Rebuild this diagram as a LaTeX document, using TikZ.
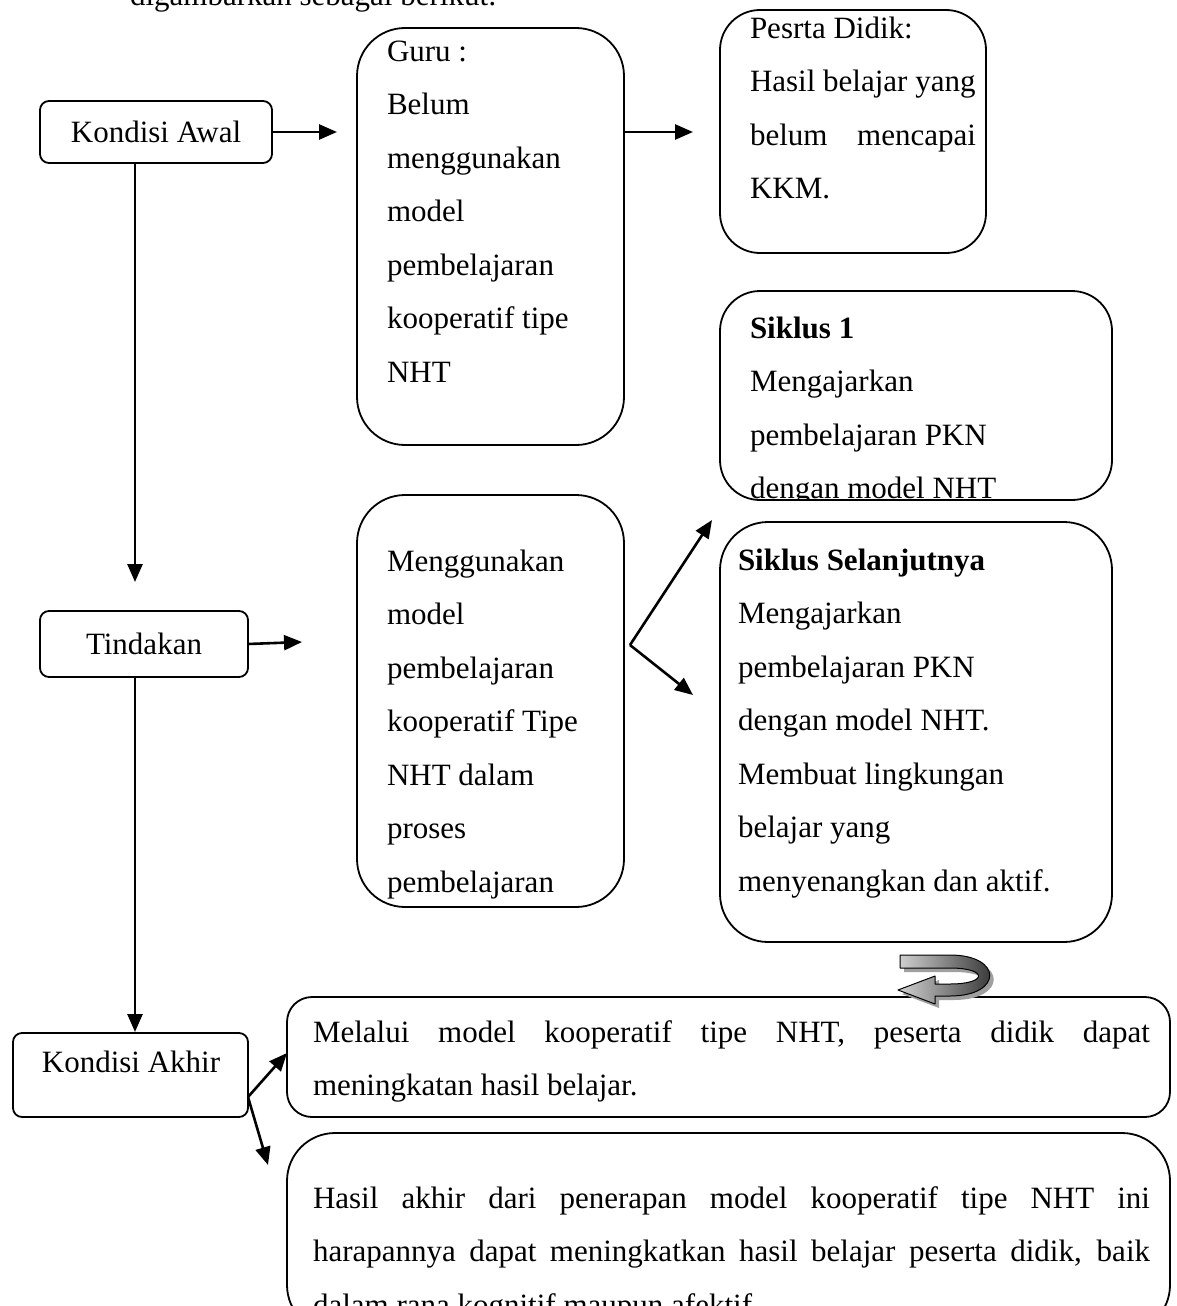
\documentclass[tikz,border=0pt]{standalone}
\usepackage{fontspec}
\setmainfont{Liberation Serif}
\usetikzlibrary{arrows.meta}

\begin{document}
\begin{tikzpicture}[x=1pt,y=-1pt,line join=round,
	kotak/.style={draw, line width=1.8pt, rounded corners=#1, inner sep=0pt, outer sep=0pt, anchor=north west, font=\fontsize{31}{53.5}\selectfont},
	kotak/.default=9pt,
	isi/.style={inner sep=0pt, outer sep=0pt, anchor=north west, align=left, font=\fontsize{31}{53.5}\selectfont},
	panah/.style={line width=2.6pt, -{Triangle[length=18pt,width=15pt]}}]
	\def\tegak{\rule{0pt}{24pt}}
	\useasboundingbox (0,0) rectangle (1176,1306);
	% kalimat di atas gambar (terpotong)
	\node[isi, anchor=base west] (judul) at (130,6) {digambarkan sebagai berikut:};
	% kolom kiri
	\node[kotak, minimum width=232, minimum height=62] (awal) at (40,101) {Kondisi Awal};
	\node[kotak, minimum width=208, minimum height=66] (tindakan) at (40,611) {Tindakan};
	\node[kotak, minimum width=235, minimum height=84] (akhir) at (13,1033) {};
	\node[isi, anchor=base] (akhirteks) at (131,1072) {Kondisi Akhir};
	% kolom tengah
	\node[kotak=48pt, minimum width=267, minimum height=417] (guru) at (357,28) {};
	\node[isi] (guruteks) at (387,61-24) {\tegak Guru :\\ Belum\\ menggunakan\\ model\\ pembelajaran\\ kooperatif tipe\\ NHT};
	\node[kotak=48pt, minimum width=267, minimum height=412] (pakai) at (357,495) {};
	\node[isi] (pakaiteks) at (387,571-24) {\tegak Menggunakan\\ model\\ pembelajaran\\ kooperatif Tipe\\ NHT dalam\\ proses\\ pembelajaran};
	% kolom kanan
	\node[kotak=40pt, minimum width=266, minimum height=243] (didik) at (720,10) {};
	\node[isi] (didikteks) at (750,38-24) {\tegak Pesrta Didik:\\ Hasil belajar yang\\ \makebox[226pt][s]{belum mencapai}\\ KKM.};
	\node[kotak=40pt, minimum width=392, minimum height=209] (siklus1) at (720,291) {};
	\begin{scope}
		\clip (720,291) rectangle (1112,500);
		\node[isi] (siklus1teks) at (750,338-24) {\tegak\textbf{Siklus 1}\\ Mengajarkan\\ pembelajaran PKN\\ dengan model NHT};
	\end{scope}
	\node[kotak=48pt, minimum width=392, minimum height=420] (lanjut) at (720,522) {};
	\node[isi] (lanjutteks) at (738,570-24) {\tegak\textbf{Siklus Selanjutnya}\\ Mengajarkan\\ pembelajaran PKN\\ dengan model NHT.\\ Membuat lingkungan\\ belajar yang\\ menyenangkan dan aktif.};
	% hasil akhir
	\node[kotak=25pt, minimum width=883, minimum height=120] (melalui) at (287,997) {};
	\node[isi] (melaluiteks) at (313,1042-24) {\tegak\makebox[837pt][s]{Melalui model kooperatif tipe NHT, peserta didik dapat}\\ meningkatan hasil belajar.};
	\node[kotak=48pt, minimum width=883, minimum height=200] (hasil) at (287,1133) {};
	\node[isi] (hasilteks) at (313,1208-24) {\tegak\makebox[837pt][s]{Hasil akhir dari penerapan model kooperatif tipe NHT ini}\\ \makebox[837pt][s]{harapannya dapat meningkatkan hasil belajar peserta didik, baik}\\ dalam rana kognitif maupun afektif.};
	% ujung panah
	\coordinate (u1) at (337,132);
	\coordinate (u2) at (693,132);
	\coordinate (u3) at (135,582);
	\coordinate (u4) at (302,642);
	\coordinate (u5) at (135,1032);
	\coordinate (cabang) at (630,645);
	\coordinate (u6) at (712,520);
	\coordinate (u7) at (693,695);
	\coordinate (pangkal) at (248,1097);
	\coordinate (u8) at (287,1053);
	\coordinate (u9) at (268,1165);
	\draw[panah] (awal.east |- u1) -- (u1);
	\draw[panah] (guru.east |- u2) -- (u2);
	\draw[panah] (awal.south -| u3) -- (u3);
	\draw[panah] (tindakan.east) -- (u4);
	\draw[panah] (tindakan.south -| u5) -- (u5);
	\draw[panah] (cabang) -- (u6);
	\draw[panah] (cabang) -- (u7);
	\draw[panah] (pangkal) -- (u8);
	\draw[panah] (pangkal) -- (u9);
	% panah lengkung
	\fill[gray!75, shift={(4,4)}] (900,955) -- (950,955) .. controls (1003,955) and (1003,996) .. (950,996) -- (935,996) -- (935,1004) -- (898,990) -- (935,976) -- (935,984) -- (950,984) .. controls (988,984) and (988,968) .. (950,968) -- (900,968) -- cycle;
	\draw[line width=1pt, left color=gray!35, right color=black!85] (900,955) -- (950,955) .. controls (1003,955) and (1003,996) .. (950,996) -- (935,996) -- (935,1004) -- (898,990) -- (935,976) -- (935,984) -- (950,984) .. controls (988,984) and (988,968) .. (950,968) -- (900,968) -- cycle;
\end{tikzpicture}
\end{document}
